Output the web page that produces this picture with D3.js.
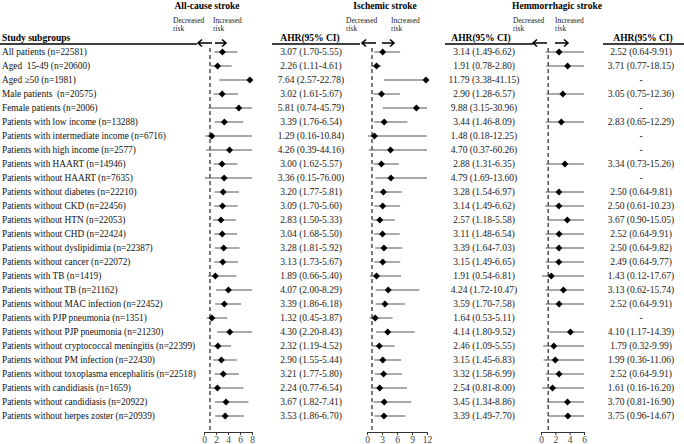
<!DOCTYPE html>
<html><head><meta charset="utf-8">
<script src="https://cdn.jsdelivr.net/npm/d3@7"></script>
<style>
body{margin:0;background:#fff;}
svg{font-family:"Liberation Serif","Times New Roman",serif;}
text{white-space:pre;}
</style></head>
<body><svg id="c" width="684" height="444"></svg>
<script>
const subgroups = [
 "All patients (n=22581)","Aged  15-49 (n=20600)","Aged \u226550 (n=1981)","Male patients  (n=20575)",
 "Female patients (n=2006)","Patients with low income (n=13288)","Patients with intermediate income (n=6716)",
 "Patients with high income (n=2577)","Patients with HAART (n=14946)","Patients without HAART (n=7635)",
 "Patients without diabetes (n=22210)","Patients without CKD (n=22456)","Patients without HTN (n=22053)",
 "Patients without CHD (n=22424)","Patients without dyslipidimia (n=22387)","Patients without cancer (n=22072)",
 "Patients with TB (n=1419)","Patients without TB (n=21162)","Patients without MAC infection (n=22452)",
 "Patients with PJP pneumonia (n=1351)","Patients without PJP pneumonia (n=21230)",
 "Patients without cryptococcal meningitis (n=22399)","Patients without PM infection (n=22430)",
 "Patients without toxoplasma encephalitis (n=22518)","Patients with candidiasis (n=1659)",
 "Patients without candidiasis (n=20922)","Patients without herpes zoster (n=20939)"
];
// [AHR, lower, upper]
const allCause = [
 [3.07,1.70,5.55],[2.26,1.11,4.61],[7.64,2.57,22.78],[3.02,1.61,5.67],[5.81,0.74,45.79],[3.39,1.76,6.54],
 [1.29,0.16,10.84],[4.26,0.39,44.16],[3.00,1.62,5.57],[3.36,0.15,76.00],[3.20,1.77,5.81],[3.09,1.70,5.60],
 [2.83,1.50,5.33],[3.04,1.68,5.50],[3.28,1.81,5.92],[3.13,1.73,5.67],[1.89,0.66,5.40],[4.07,2.00,8.29],
 [3.39,1.86,6.18],[1.32,0.45,3.87],[4.30,2.20,8.43],[2.32,1.19,4.52],[2.90,1.55,5.44],[3.21,1.77,5.80],
 [2.24,0.77,6.54],[3.67,1.82,7.41],[3.53,1.86,6.70]
];
const ischemic = [
 [3.14,1.49,6.62],[1.91,0.78,2.80],[11.79,3.38,41.15],[2.90,1.28,6.57],[9.88,3.15,30.96],[3.44,1.46,8.09],
 [1.48,0.18,12.25],[4.70,0.37,60.26],[2.88,1.31,6.35],[4.79,1.69,13.60],[3.28,1.54,6.97],[3.14,1.49,6.62],
 [2.57,1.18,5.58],[3.11,1.48,6.54],[3.39,1.64,7.03],[3.15,1.49,6.65],[1.91,0.54,6.81],[4.24,1.72,10.47],
 [3.59,1.70,7.58],[1.64,0.53,5.11],[4.14,1.80,9.52],[2.46,1.09,5.55],[3.15,1.45,6.83],[3.32,1.58,6.99],
 [2.54,0.81,8.00],[3.45,1.34,8.86],[3.39,1.49,7.70]
];
const hemorrhagic = [
 [2.52,0.64,9.91],[3.71,0.77,18.15],null,[3.05,0.75,12.36],null,[2.83,0.65,12.29],
 null,null,[3.34,0.73,15.26],null,[2.50,0.64,9.81],[2.50,0.61,10.23],
 [3.67,0.90,15.05],[2.52,0.64,9.91],[2.50,0.64,9.82],[2.49,0.64,9.77],[1.43,0.12,17.67],[3.13,0.62,15.74],
 [2.52,0.64,9.91],null,[4.10,1.17,14.39],[1.79,0.32,9.99],[1.99,0.36,11.06],[2.52,0.64,9.91],
 [1.61,0.16,16.20],[3.70,0.81,16.90],[3.75,0.96,14.67]
];
const panelTitles = ["All-cause stroke","Ischemic stroke","Hemmorrhagic stroke"];
const ticksAll = [0,2,4,6,8];
const ticksIsch = [0,3,6,9,12];
const ticksHem = [0,2,4,6];

const svg = d3.select("#c");
const y = d3.scalePoint().domain(d3.range(subgroups.length)).range([52,416]);
const f2 = d3.format(".2f");
const fmt = d => d ? `${f2(d[0])} (${f2(d[1])}-${f2(d[2])})` : "-";

const panels = [
 {data:allCause, ticks:ticksAll, x:d3.scaleLinear().domain([0,8]).range([204,252]), title:panelTitles[0], tcx:207, dec:173, inc:213, la:[198,212], ra:[215,226]},
 {data:ischemic, ticks:ticksIsch, x:d3.scaleLinear().domain([0,12]).range([367,427]), title:panelTitles[1], tcx:385, dec:346, inc:391, la:[362,376], ra:[382,394]},
 {data:hemorrhagic, ticks:ticksHem, x:d3.scaleLinear().domain([0,6]).range([541,584]), title:panelTitles[2], tcx:557, dec:513, inc:555, la:[533,547], ra:[555,568]}
];

// row labels
svg.append("text").attr("x",2).attr("y",41).attr("font-size",9.5).attr("font-weight","bold").text("Study subgroups");
svg.append("line").attr("x1",0).attr("x2",197).attr("y1",44).attr("y2",44).attr("stroke","#000").attr("stroke-width",1.6);
svg.append("g").selectAll("text").data(subgroups).join("text")
 .attr("x",2).attr("y",(d,i)=>y(i)).attr("dy","0.35em").attr("font-size",9.3).attr("fill","#111").text(d=>d);

// AHR columns
const cols = [
 {data:allCause, cx:311, hx:310, u:[272,360]},
 {data:ischemic, cx:484, hx:481, u:[445,533]},
 {data:hemorrhagic, cx:641, hx:643, u:[603,684]}
];
cols.forEach(c=>{
 svg.append("text").attr("x",c.hx).attr("y",41).attr("text-anchor","middle").attr("font-size",9.5).attr("font-weight","bold").text("AHR(95% CI)");
 svg.append("line").attr("x1",c.u[0]).attr("x2",c.u[1]).attr("y1",44).attr("y2",44).attr("stroke","#000").attr("stroke-width",1.6);
 svg.append("g").selectAll("text").data(c.data).join("text")
  .attr("x",c.cx).attr("y",(d,i)=>y(i)).attr("dy","0.35em").attr("text-anchor","middle").attr("font-size",9.5).attr("fill","#222").text(fmt);
});

panels.forEach(p=>{
 const g = svg.append("g");
 g.append("text").attr("x",p.tcx).attr("y",9).attr("text-anchor","middle").attr("font-size",9.5).attr("font-weight","bold").text(p.title);
 [[p.dec,"Decreased"],[p.inc,"Increased"]].forEach(([x0,w])=>{
  g.append("text").attr("x",x0).attr("y",23).attr("font-size",7.5).attr("fill","#222").text(w);
  g.append("text").attr("x",x0).attr("y",31).attr("font-size",7.5).attr("fill","#222").text("risk");
 });
 // arrows
 const ay=43;
 g.append("path").attr("d",`M${p.la[1]},${ay}H${p.la[0]}M${p.la[0]+4},${ay-3.5}L${p.la[0]},${ay}L${p.la[0]+4},${ay+3.5}`)
  .attr("fill","none").attr("stroke","#000").attr("stroke-width",1.6);
 g.append("path").attr("d",`M${p.ra[0]},${ay}H${p.ra[1]}M${p.ra[1]-4},${ay-3.5}L${p.ra[1]},${ay}L${p.ra[1]-4},${ay+3.5}`)
  .attr("fill","none").attr("stroke","#000").attr("stroke-width",1.6);
 const x = p.x, [d0,d1] = x.domain();
 const clip = v => Math.max(d0, Math.min(d1, v));
 // reference line
 g.append("line").attr("x1",x(1)).attr("x2",x(1)).attr("y1",48).attr("y2",432)
  .attr("stroke","#222").attr("stroke-width",1.2).attr("stroke-dasharray","4,3");
 // CI lines
 const rows = p.data.map((d,i)=>({d,i})).filter(r=>r.d);
 g.append("g").selectAll("line").data(rows).join("line")
  .attr("x1",r=>x(clip(r.d[1]))).attr("x2",r=>x(clip(r.d[2])))
  .attr("y1",r=>y(r.i)).attr("y2",r=>y(r.i)).attr("stroke","#555").attr("stroke-width",1);
 g.append("g").selectAll("path").data(rows).join("path")
  .attr("d",d3.symbol(d3.symbolSquare,24))
  .attr("transform",r=>`translate(${x(clip(r.d[0]))},${y(r.i)}) rotate(45)`).attr("fill","#000");
 // axis
 const ax = g.append("g").attr("transform","translate(0,432)")
  .call(d3.axisBottom(x).tickValues(p.ticks).tickSize(3).tickSizeOuter(0).tickFormat(d3.format("d")));
 ax.select(".domain").attr("stroke","#333");
 ax.selectAll(".tick line").attr("stroke","#333");
 ax.selectAll("text").attr("font-family","Liberation Serif, serif").attr("font-size",9.5).attr("fill","#444").attr("dy","0.55em");
});
</script></body></html>
